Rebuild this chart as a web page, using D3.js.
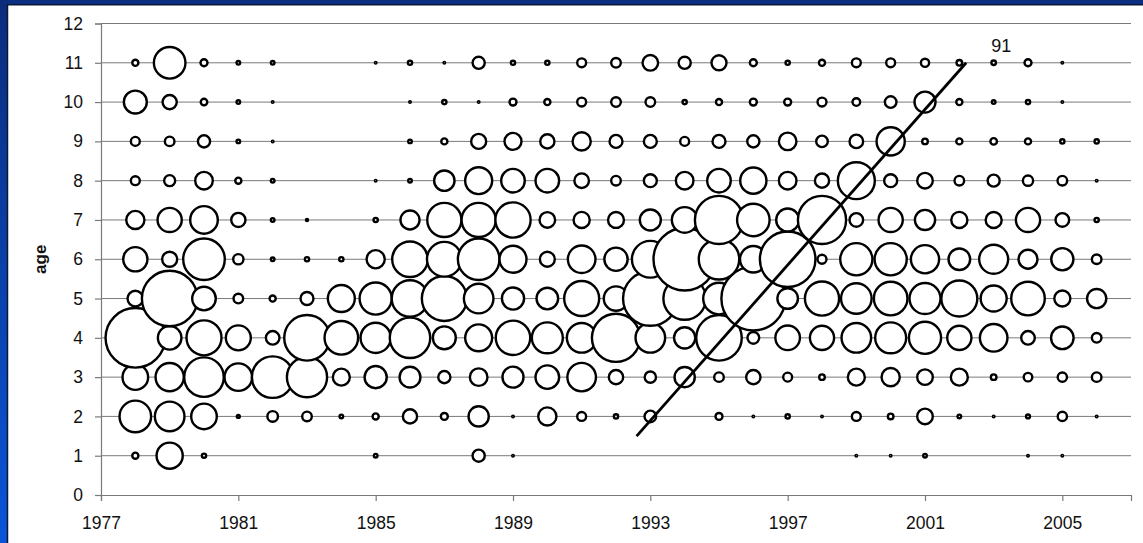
<!DOCTYPE html>
<html>
<head>
<meta charset="utf-8">
<script src="https://cdn.jsdelivr.net/npm/d3@7"></script>
<style>
  body { margin: 0; background: #fff; }
  svg { display: block; }
  text { font-family: "Liberation Sans", Arial, sans-serif; }
</style>
</head>
<body>
<svg id="chart" width="1143" height="543"></svg>
<script>
// years on the x axis, one bubble column per year
var years = d3.range(1978, 2007);
var ages = [1, 2, 3, 4, 5, 6, 7, 8, 9, 10, 11];
var xTicks = [1977, 1981, 1985, 1989, 1993, 1997, 2001, 2005];
var yTicks = d3.range(0, 13);

// bubble sizes (relative catch index) per age, 1978..2006
var age1  = [18, 204, 11, 0, 0, 0, 0, 9, 0, 0, 53, 3, 0, 0, 0, 0, 0, 0, 0, 0, 0, 3, 3, 9, 0, 0, 3, 3, 0];
var age2  = [289, 256, 196, 7, 42, 36, 9, 18, 69, 22, 128, 3, 106, 32, 11, 49, 0, 22, 3, 11, 3, 32, 16, 81, 9, 4, 10, 34, 3];
var age3  = [196, 234, 441, 225, 484, 454, 94, 151, 135, 53, 100, 137, 169, 240, 70, 47, 128, 36, 70, 32, 16, 94, 106, 81, 94, 16, 30, 34, 36];
var age4  = [961, 169, 350, 188, 64, 576, 324, 266, 460, 161, 216, 340, 279, 256, 640, 256, 140, 575, 50, 182, 177, 256, 279, 299, 177, 225, 64, 156, 36];
var age5  = [81, 841, 169, 36, 18, 59, 216, 299, 380, 562, 256, 151, 144, 350, 180, 812, 506, 289, 1100, 132, 335, 272, 324, 279, 369, 202, 324, 85, 117];
var age6  = [177, 76, 484, 40, 9, 11, 11, 106, 361, 345, 484, 216, 75, 225, 165, 385, 1050, 460, 210, 841, 32, 299, 299, 234, 144, 246, 114, 151, 36];
var age7  = [106, 177, 225, 69, 9, 5, 0, 11, 115, 335, 335, 355, 81, 86, 84, 137, 196, 640, 305, 161, 640, 64, 177, 128, 86, 85, 177, 64, 11];
var age8  = [32, 45, 100, 18, 9, 0, 0, 4, 9, 130, 216, 169, 169, 72, 36, 59, 100, 169, 205, 100, 69, 388, 59, 81, 36, 52, 40, 36, 4];
var age9  = [32, 36, 53, 9, 3, 0, 0, 0, 9, 18, 76, 94, 69, 106, 59, 59, 32, 59, 53, 100, 49, 64, 234, 16, 18, 20, 18, 11, 11];
var age10 = [161, 69, 20, 9, 3, 0, 0, 0, 3, 11, 3, 22, 18, 32, 36, 36, 11, 18, 22, 22, 32, 25, 49, 137, 18, 9, 11, 3, 0];
var age11 = [18, 289, 22, 9, 9, 0, 0, 4, 11, 4, 53, 11, 11, 32, 36, 81, 53, 76, 22, 11, 18, 32, 32, 28, 16, 12, 22, 4, 0];
var sizesByAge = [age1, age2, age3, age4, age5, age6, age7, age8, age9, age10, age11];

// the 1991 year class, drawn as a diagonal
var cohortLabel = "91";
var cohortYears = [1992.6, 2002.2];
var cohortAges = [1.5, 11];

var width = 1143, height = 543;
var svg = d3.select("#chart");

// blue frame like the slide template
var defs = svg.append("defs");
var grad = defs.append("linearGradient").attr("id", "sideGrad")
    .attr("x1", 0).attr("y1", 0).attr("x2", 0).attr("y2", 1);
grad.append("stop").attr("offset", "0%").attr("stop-color", "#0b2c7c");
grad.append("stop").attr("offset", "100%").attr("stop-color", "#0a55d8");

svg.append("rect").attr("width", width).attr("height", height).attr("fill", "#fff");
svg.append("rect").attr("x", 0).attr("y", 0).attr("width", width).attr("height", 5).attr("fill", "#0b2f80");
svg.append("rect").attr("x", 0).attr("y", 0).attr("width", 8).attr("height", height).attr("fill", "url(#sideGrad)");
svg.append("path").attr("d", "M7.5," + height + "V4.8H" + width)
    .attr("fill", "none").attr("stroke", "#0a1838").attr("stroke-width", 1.5);

var x = d3.scaleLinear().domain([1977, 2007]).range([101, 1131]);
var y = d3.scaleLinear().domain([0, 12]).range([495, 23.5]);
var r = d3.scaleSqrt().domain([0, 1000]).range([0, 31.6]);
var strokeW = 2.4;

// horizontal gridlines
svg.append("g").selectAll("line")
    .data(yTicks.filter(function (d) { return d > 0; }))
    .enter().append("line")
    .attr("x1", x(1977)).attr("x2", x(2007))
    .attr("y1", function (d) { return y(d); })
    .attr("y2", function (d) { return y(d); })
    .attr("stroke", "#7a7a7a").attr("stroke-width", 1);

// axes
var xAxis = svg.append("g").attr("transform", "translate(0," + y(0) + ")")
    .call(d3.axisBottom(x).tickValues(xTicks).tickFormat(d3.format("d"))
        .tickSizeOuter(0).tickSize(6).tickPadding(16));
var yAxis = svg.append("g").attr("transform", "translate(" + x(1977) + ",0)")
    .call(d3.axisLeft(y).tickValues(yTicks).tickFormat(d3.format("d"))
        .tickSizeOuter(0).tickSize(6).tickPadding(12));
[xAxis, yAxis].forEach(function (g) {
    g.select(".domain").attr("stroke", "#7a7a7a").attr("stroke-width", 1.2);
    g.selectAll(".tick line").attr("stroke", "#7a7a7a").attr("stroke-width", 1.2);
    g.selectAll(".tick text").attr("fill", "#111").style("font-size", "17.5px")
        .style("font-family", '"Liberation Sans", Arial, sans-serif');
});

svg.append("text")
    .attr("transform", "translate(46," + y(6) + ") rotate(-90)")
    .attr("text-anchor", "middle")
    .style("font-size", "17px").style("font-weight", "bold").attr("fill", "#111")
    .text("age");

// bubbles: one series per age, later ages drawn over earlier ones
var points = [];
ages.forEach(function (a, i) {
    years.forEach(function (yr, j) {
        var v = sizesByAge[i][j];
        if (v > 0) points.push({ year: yr, age: a, value: v });
    });
});

svg.append("g").selectAll("circle")
    .data(points)
    .enter().append("circle")
    .attr("cx", function (d) { return x(d.year); })
    .attr("cy", function (d) { return y(d.age); })
    .attr("r", function (d) { return Math.max(0.8, r(d.value) - strokeW / 2); })
    .attr("fill", "#fff")
    .attr("stroke", "#000")
    .attr("stroke-width", strokeW);

// cohort line
var line = d3.line()
    .x(function (d) { return x(d[0]); })
    .y(function (d) { return y(d[1]); });
svg.append("path")
    .datum(d3.zip(cohortYears, cohortAges))
    .attr("d", line)
    .attr("fill", "none").attr("stroke", "#000").attr("stroke-width", 2.8);

svg.append("text")
    .attr("x", x(cohortYears[1]) + 35)
    .attr("y", y(cohortAges[1]) - 11)
    .attr("text-anchor", "middle")
    .style("font-size", "18px").attr("fill", "#111")
    .text(cohortLabel);
</script>
</body>
</html>
